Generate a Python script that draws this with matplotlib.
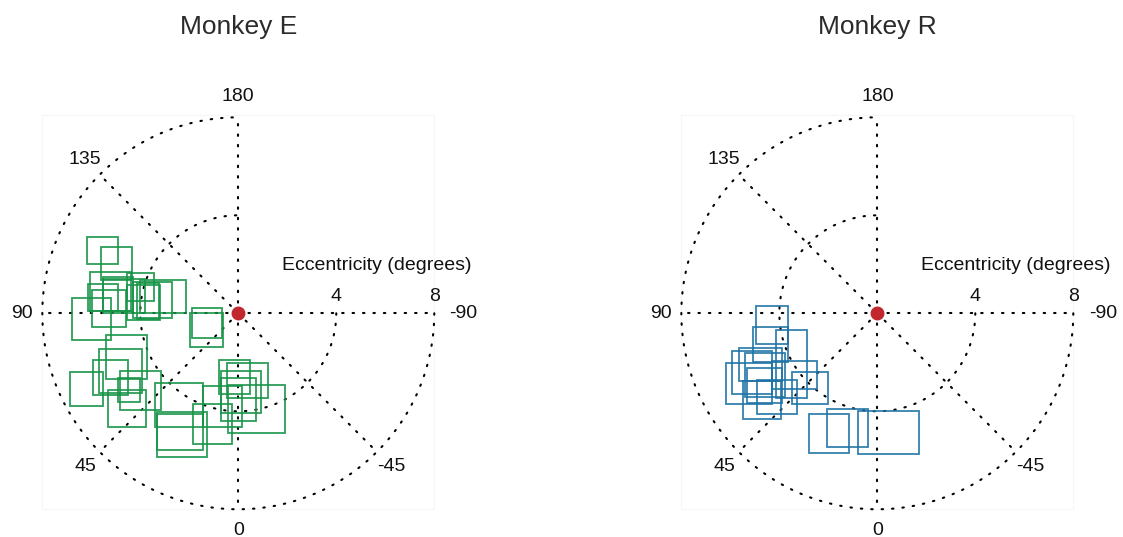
import numpy as np
import matplotlib
matplotlib.use('Agg')
from matplotlib import pyplot as plt
from matplotlib.patches import Rectangle

plt.rcParams['font.family'] = ['Liberation Sans', 'DejaVu Sans']

# receptive field boxes in degrees: left, bottom, right, top
monkey_e_left = [-6.18, -5.60, -6.04, -5.51, -5.98, -6.80, -4.54, -5.53, -4.01, -4.56, -4.29,
                 -6.15, -4.15, -1.90, -1.97, -5.41, -5.69, -5.93, -6.88, -4.83, -4.92, -5.31,
                 -3.41, -3.33, -3.33, -1.84, -1.45, -0.79, -0.45, -0.72, -0.71, -0.41]
monkey_e_bottom = [2.01, 1.37, 0.08, 0.08, -0.56, -1.09, 0.51, 0.00, 0.01, -0.26, -0.19,
                   0.08, -0.24, -1.02, -1.36, -2.68, -3.27, -3.33, -3.80, -3.95, -3.63, -4.65,
                   -4.65, -5.85, -5.58, -5.33, -4.63, -3.29, -3.44, -4.08, -4.38, -4.87]
monkey_e_right = [-4.92, -4.33, -4.38, -4.29, -4.58, -5.21, -3.44, -3.81, -2.13, -3.20, -2.69,
                  -4.90, -3.22, -0.68, -0.61, -3.74, -3.92, -4.51, -5.51, -3.17, -4.01, -3.78,
                  -1.43, -1.27, -1.43, -0.24, 0.14, 0.48, 1.20, 0.93, 0.72, 1.91]
monkey_e_top = [3.13, 2.69, 1.69, 1.47, 0.94, 0.61, 1.66, 1.39, 1.36, 1.17, 1.27,
                1.20, 1.25, 0.23, 0.00, -0.89, -1.46, -1.92, -2.41, -2.36, -2.63, -3.14,
                -2.83, -4.02, -4.12, -3.70, -2.97, -1.89, -2.03, -2.36, -2.63, -2.93]

monkey_r_left = [-4.96, -5.06, -4.13, -5.92, -5.63, -6.19, -5.40, -4.31, -3.49, -5.47, -4.90,
                 -5.33, -2.78, -2.07, -0.78]
monkey_r_bottom = [-1.27, -1.98, -3.47, -3.29, -2.76, -3.71, -3.40, -3.10, -3.71, -4.31, -4.11,
                   -3.67, -5.69, -5.44, -5.74]
monkey_r_right = [-3.66, -3.63, -2.88, -4.31, -3.90, -4.31, -3.77, -2.45, -2.00, -3.93, -3.27,
                  -3.90, -1.14, -0.39, 1.70]
monkey_r_top = [0.31, -0.55, -0.68, -1.54, -1.43, -2.02, -1.63, -1.95, -2.38, -2.76, -2.72,
                -2.24, -4.11, -3.92, -3.98]

eccentricities = [4, 8]
angles = [180, 135, 90, 45, 0, -45, -90]


def polar_xy(r, theta_deg):
    # 0 points down, 90 to the left, 180 up, -90 to the right
    t = np.deg2rad(theta_deg)
    return -r * np.sin(t), -r * np.cos(t)


def draw_grid(ax):
    dots = dict(color='black', lw=1.5, linestyle=(0, (0.7, 4.3)), dash_capstyle='round')
    ax.add_patch(Rectangle((-8, -8), 16, 16.1, fill=False, edgecolor='#f6f6f6', lw=0.8))
    theta = np.linspace(-90, 180, 400)
    for r in eccentricities:
        x, y = polar_xy(r, theta)
        ax.plot(x, y, **dots)
    for a in angles:
        x, y = polar_xy(np.array([0, eccentricities[-1]]), a)
        ax.plot(x, y, **dots)
    for a in angles:
        r = 9.2 if a == -90 else 8.85
        x, y = polar_xy(r, a)
        ax.text(x, y, str(a), ha='center', va='center', fontsize=14, color='#111111')
    for r in eccentricities:
        ax.text(r, 0.35, str(r), ha='center', va='bottom', fontsize=14, color='#111111')
    ax.text(5.66, 1.97, 'Eccentricity (degrees)', ha='center', va='center', fontsize=14,
            color='#111111')


def draw_fields(ax, left, bottom, right, top, color):
    for l, b, r, t in zip(left, bottom, right, top):
        ax.add_patch(Rectangle((l, b), r - l, t - b, fill=False, edgecolor=color,
                               lw=1.3, alpha=0.9, zorder=3))
    ax.plot(0, 0, 'o', color='#c1272d', markersize=9, zorder=4)


fig = plt.figure(figsize=(11.23, 5.37), dpi=100)
panels = [
    ('Monkey E', 0.00276, (monkey_e_left, monkey_e_bottom, monkey_e_right, monkey_e_top), '#169447'),
    ('Monkey R', 0.5718, (monkey_r_left, monkey_r_bottom, monkey_r_right, monkey_r_top), '#1f73a5'),
]
for title, x0, fields, color in panels:
    ax = fig.add_axes([x0, 0.006, 0.4363, 0.8303])
    ax.set_xlim(-9.6, 10.4)
    ax.set_ylim(-9.0, 9.2)
    ax.set_aspect('equal')
    ax.axis('off')
    draw_grid(ax)
    draw_fields(ax, *fields, color)
    ax.text(0, 11.7, title, ha='center', va='center', fontsize=19, color='#2b2b2b')

fig.savefig('out.png', dpi=100)
